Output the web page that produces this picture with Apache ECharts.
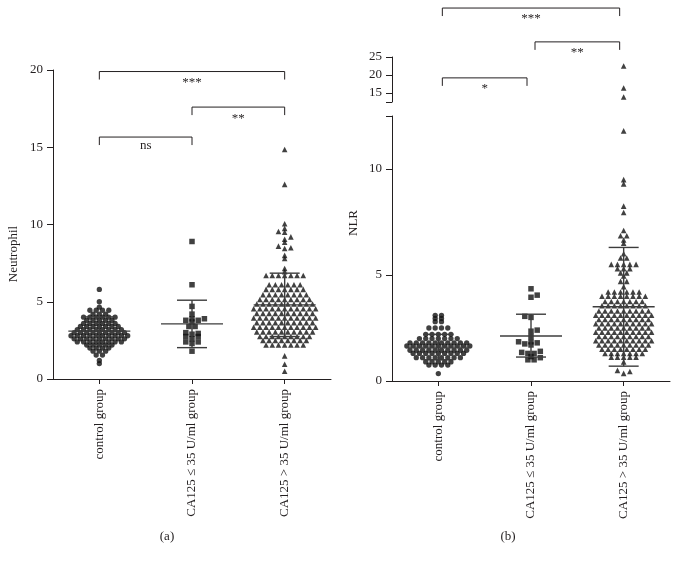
<!DOCTYPE html>
<html>
<head>
<meta charset="utf-8">
<script src="https://cdn.jsdelivr.net/npm/echarts@6/dist/echarts.min.js"></script>
<style>html,body{margin:0;padding:0;background:#fff}#c{width:678px;height:564px}</style>
</head>
<body>
<div id="c"></div>
<script>
// ---------- data ----------
const categories = ['control group', 'CA125 \u2264 35 U/ml group', 'CA125 > 35 U/ml group'];

const neutControl = [
  5.8, 5.0, 4.65,
  4.45, 4.45, 4.45, 4.45,
  4.2, 4.2, 4.2,
  4.0, 4.0, 4.0, 4.0, 4.0, 4.0,
  3.8, 3.8, 3.8, 3.8, 3.8,
  3.6, 3.6, 3.6, 3.6, 3.6, 3.6,
  3.4, 3.4, 3.4, 3.4, 3.4, 3.4, 3.4,
  3.2, 3.2, 3.2, 3.2, 3.2, 3.2, 3.2, 3.2,
  3.0, 3.0, 3.0, 3.0, 3.0, 3.0, 3.0, 3.0, 3.0,
  2.8, 2.8, 2.8, 2.8, 2.8, 2.8, 2.8, 2.8, 2.8, 2.8,
  2.6, 2.6, 2.6, 2.6, 2.6, 2.6, 2.6, 2.6, 2.6,
  2.4, 2.4, 2.4, 2.4, 2.4, 2.4, 2.4, 2.4,
  2.2, 2.2, 2.2, 2.2, 2.2,
  2.0, 2.0, 2.0, 2.0,
  1.8, 1.8, 1.8,
  1.55, 1.55,
  1.2, 1.0
];
const neutMid = [8.9, 6.1, 4.7, 4.2, 3.9, 3.9, 3.8, 3.8, 3.7, 3.4, 3.4, 3.0, 2.95, 2.9, 2.75, 2.75, 2.6, 2.4, 2.4, 2.3, 1.8];
const neutHigh = [
  14.85, 12.6,
  10.05, 9.75, 9.55, 9.5, 9.2, 9.05, 8.85, 8.6, 8.5, 8.45, 8.0, 7.8, 7.15, 6.95,
  6.7, 6.7, 6.7, 6.7, 6.7, 6.7, 6.7,
  6.1, 6.1, 6.1, 6.1, 6.1, 6.1,
  5.8, 5.8, 5.8, 5.8, 5.8, 5.8, 5.8,
  5.45, 5.45, 5.45, 5.45, 5.45, 5.45, 5.45, 5.45,
  5.15, 5.15, 5.15, 5.15, 5.15, 5.15, 5.15, 5.15, 5.15,
  4.85, 4.85, 4.85, 4.85, 4.85, 4.85, 4.85, 4.85, 4.85, 4.85,
  4.55, 4.55, 4.55, 4.55, 4.55, 4.55, 4.55, 4.55, 4.55, 4.55, 4.55,
  4.25, 4.25, 4.25, 4.25, 4.25, 4.25, 4.25, 4.25, 4.25, 4.25,
  3.95, 3.95, 3.95, 3.95, 3.95, 3.95, 3.95, 3.95, 3.95, 3.95, 3.95,
  3.65, 3.65, 3.65, 3.65, 3.65, 3.65, 3.65, 3.65, 3.65, 3.65,
  3.35, 3.35, 3.35, 3.35, 3.35, 3.35, 3.35, 3.35, 3.35, 3.35, 3.35,
  3.05, 3.05, 3.05, 3.05, 3.05, 3.05, 3.05, 3.05, 3.05, 3.05,
  2.75, 2.75, 2.75, 2.75, 2.75, 2.75, 2.75, 2.75, 2.75,
  2.5, 2.5, 2.5, 2.5, 2.5, 2.5, 2.5, 2.5,
  2.2, 2.2, 2.2, 2.2, 2.2, 2.2, 2.2,
  1.5, 0.95, 0.5
];

const nlrControl = [
  3.1, 3.1, 2.95, 2.95, 2.8, 2.8,
  2.5, 2.5, 2.5, 2.5,
  2.2, 2.2, 2.2, 2.2, 2.2,
  2.0, 2.0, 2.0, 2.0, 2.0, 2.0, 2.0,
  1.8, 1.8, 1.8, 1.8, 1.8, 1.8, 1.8, 1.8, 1.8, 1.8,
  1.65, 1.65, 1.65, 1.65, 1.65, 1.65, 1.65, 1.65, 1.65, 1.65, 1.65,
  1.45, 1.45, 1.45, 1.45, 1.45, 1.45, 1.45, 1.45, 1.45, 1.45,
  1.3, 1.3, 1.3, 1.3, 1.3, 1.3, 1.3, 1.3, 1.3,
  1.1, 1.1, 1.1, 1.1, 1.1, 1.1, 1.1, 1.1,
  0.9, 0.9, 0.9, 0.9, 0.9,
  0.75, 0.75, 0.75, 0.75,
  0.35
];
const nlrMid = [4.35, 4.05, 3.95, 3.05, 3.0, 2.4, 2.35, 2.1, 1.85, 1.85, 1.8, 1.75, 1.7, 1.4, 1.35, 1.3, 1.3, 1.15, 1.1, 1.0, 1.0];
const nlrHigh = [
  22.5, 16.4, 13.9,
  11.8, 9.5, 9.3, 8.25, 7.95, 7.1, 6.85, 6.85, 6.65, 6.5, 6.0, 5.8, 5.8,
  5.5, 5.5, 5.5, 5.5, 5.5,
  5.3, 5.3, 5.3,
  5.1, 5.1, 4.95,
  4.7, 4.7, 4.45,
  4.2, 4.2, 4.2, 4.2, 4.2, 4.2,
  4.0, 4.0, 4.0, 4.0, 4.0, 4.0, 4.0, 4.0,
  3.75, 3.75, 3.75, 3.75, 3.75, 3.75, 3.75,
  3.55, 3.55, 3.55, 3.55, 3.55, 3.55, 3.55, 3.55,
  3.3, 3.3, 3.3, 3.3, 3.3, 3.3, 3.3, 3.3, 3.3,
  3.1, 3.1, 3.1, 3.1, 3.1, 3.1, 3.1, 3.1, 3.1, 3.1,
  2.9, 2.9, 2.9, 2.9, 2.9, 2.9, 2.9, 2.9, 2.9,
  2.7, 2.7, 2.7, 2.7, 2.7, 2.7, 2.7, 2.7, 2.7, 2.7,
  2.5, 2.5, 2.5, 2.5, 2.5, 2.5, 2.5, 2.5, 2.5,
  2.3, 2.3, 2.3, 2.3, 2.3, 2.3, 2.3, 2.3, 2.3, 2.3,
  2.1, 2.1, 2.1, 2.1, 2.1, 2.1, 2.1, 2.1, 2.1,
  1.9, 1.9, 1.9, 1.9, 1.9, 1.9, 1.9, 1.9, 1.9, 1.9,
  1.7, 1.7, 1.7, 1.7, 1.7, 1.7, 1.7, 1.7, 1.7,
  1.5, 1.5, 1.5, 1.5, 1.5, 1.5, 1.5, 1.5,
  1.3, 1.3, 1.3, 1.3, 1.3, 1.3, 1.3,
  1.12, 1.12, 1.12, 1.12, 1.12,
  0.9, 0.5, 0.45, 0.36
];

// mean and SD bars (mean, lower, upper) per group
const neutMean = [3.1, 3.57, 4.8];
const neutLow = [2.22, 2.03, 2.75];
const neutHighSD = [4.02, 5.1, 6.85];
const nlrMean = [1.6, 2.12, 3.5];
const nlrLow = [1.0, 1.13, 0.7];
const nlrHighSD = [2.2, 3.15, 6.3];

// significance brackets: from group, to group, height (axis units), label
const neutBrackets = [[1, 3, 19.9, '***'], [2, 3, 17.6, '**'], [1, 2, 15.66, 'ns']];
const nlrBrackets = [[1, 3, 38.6, '***'], [2, 3, 29.2, '**'], [1, 2, 19.2, '*']];

// axis ticks
const neutTicks = [0, 5, 10, 15, 20];
const nlrLowerLabels = [0, 5, 10];
const nlrUpperLabels = [15, 20, 25];
const nlrBreak = 12.5;

// ---------- layout ----------
const FONT = 'Liberation Serif';
const INK = '#231f20';
const DOT = '#111';
const GL = {left: 53, top: 70, width: 278, height: 309};
const GU = {left: 392, top: 57, width: 278, height: 45};
const GB = {left: 392, top: 116, width: 278, height: 265};
const pxX = GL.width / 3;
const pxYL = GL.height / 20;
const pxYU = GU.height / (25 - nlrBreak);
const pxYB = GB.height / nlrBreak;

function swarm(values, cat, pxPerY, sx, sy) {
  const sorted = values.slice().sort((a, b) => a - b);
  const placed = [];
  let flip = 1;
  const collides = (x, y) => placed.some(p => Math.abs(p.y - y) < sy && Math.abs(p.x - x) < sx - 1e-6);
  let i = 0;
  while (i < sorted.length) {
    let j = i;
    while (j < sorted.length && sorted[j] === sorted[i]) j++;
    const n = j - i, y = sorted[i] * pxPerY;
    const sym = [];
    for (let k = 0; k < n; k++) sym.push((k - (n - 1) / 2) * sx);
    if (sym.every(x => !collides(x, y))) {
      sym.forEach(x => placed.push({x, y, v: sorted[i]}));
    } else {
      for (let k = 0; k < n; k++) {
        const cands = [0];
        placed.forEach(p => { if (Math.abs(p.y - y) < sy) cands.push(p.x - sx, p.x + sx); });
        let best = null;
        cands.forEach(c => {
          if (collides(c, y)) return;
          if (best === null || Math.abs(c) < Math.abs(best) - 1e-6 ||
              (Math.abs(Math.abs(c) - Math.abs(best)) < 1e-6 && Math.sign(c) === flip)) best = c;
        });
        if (best !== 0) flip = -Math.sign(best);
        placed.push({x: best, y, v: sorted[i]});
      }
    }
    i = j;
  }
  return placed.map(p => [cat + p.x / pxX, p.v]);
}

function xAxisCfg(grid, visible) {
  return {
    type: 'value', gridIndex: grid, min: 0.5, max: 3.5, show: visible,
    axisLine: {show: true, lineStyle: {color: INK, width: 1}},
    axisTick: {show: true, length: 5, customValues: [1, 2, 3], lineStyle: {color: INK, width: 1}},
    axisLabel: {show: true, customValues: [1, 2, 3], rotate: 90, margin: 10,
      formatter: v => categories[Math.round(v) - 1],
      fontFamily: FONT, fontSize: 13, color: INK},
    splitLine: {show: false}
  };
}
function yAxisCfg(grid, min, max, labels, ticks) {
  return {
    type: 'value', gridIndex: grid, min, max,
    axisLine: {show: true, lineStyle: {color: INK, width: 1}},
    axisTick: {show: true, length: 6, customValues: ticks, lineStyle: {color: INK, width: 1}},
    axisLabel: {show: true, customValues: labels, margin: 10, fontFamily: FONT, fontSize: 13, color: INK},
    splitLine: {show: false}
  };
}

function scatter(data, xi, yi, symbol, size) {
  return {type: 'scatter', xAxisIndex: xi, yAxisIndex: yi, symbol, symbolSize: size,
    itemStyle: {color: DOT}, data, silent: true, z: 3};
}

function sdSeries(means, lows, highs, xi, yi) {
  return {
    type: 'custom', xAxisIndex: xi, yAxisIndex: yi, silent: true, z: 4, clip: false,
    encode: {x: 0, y: [1, 2, 3]},
    data: means.map((m, k) => [k + 1, m, lows[k], highs[k]]),
    renderItem: (params, api) => {
      const c = api.coord([api.value(0), api.value(1)]);
      const lo = api.coord([api.value(0), api.value(2)]);
      const hi = api.coord([api.value(0), api.value(3)]);
      const st = {stroke: '#3c3c3c', lineWidth: 1.4};
      return {type: 'group', children: [
        {type: 'line', shape: {x1: c[0] - 31, y1: c[1], x2: c[0] + 31, y2: c[1]}, style: st},
        {type: 'line', shape: {x1: lo[0] - 15, y1: lo[1], x2: lo[0] + 15, y2: lo[1]}, style: st},
        {type: 'line', shape: {x1: hi[0] - 15, y1: hi[1], x2: hi[0] + 15, y2: hi[1]}, style: st},
        {type: 'line', shape: {x1: lo[0], y1: lo[1], x2: hi[0], y2: hi[1]}, style: st}
      ]};
    }
  };
}

function bracketSeries(list, xi, yi, inset) {
  return {
    type: 'custom', xAxisIndex: xi, yAxisIndex: yi, silent: true, z: 5, clip: false,
    encode: {x: [0, 1], y: 2},
    data: list.map(b => [b[0], b[1], b[2]]),
    renderItem: (params, api) => {
      const p1 = api.coord([api.value(0), api.value(2)]);
      const p2 = api.coord([api.value(1), api.value(2)]);
      const label = list[params.dataIndex][3];
      const x1 = p1[0] + inset, x2 = p2[0] - inset, y = p1[1];
      const star = label.indexOf('*') >= 0;
      return {type: 'group', children: [
        {type: 'polyline', shape: {points: [[x1, y + 8], [x1, y], [x2, y], [x2, y + 8]]},
          style: {stroke: INK, lineWidth: 1, fill: null}},
        {type: 'text', x: (x1 + x2) / 2, y: y + (star ? 11 : 9),
          style: {text: label, fontFamily: FONT, fontSize: 13, fill: INK, align: 'center', verticalAlign: 'middle'}}
      ]};
    }
  };
}

const nlrHighLower = nlrHigh.filter(v => v <= nlrBreak);
const nlrHighUpper = nlrHigh.filter(v => v > nlrBreak);

const option = {
  animation: false,
  backgroundColor: '#ffffff',
  grid: [GL, GU, GB],
  xAxis: [xAxisCfg(0, true), xAxisCfg(1, false), xAxisCfg(2, true)],
  yAxis: [
    yAxisCfg(0, 0, 20, neutTicks, neutTicks),
    yAxisCfg(1, nlrBreak, 25, nlrUpperLabels, [nlrBreak].concat(nlrUpperLabels)),
    yAxisCfg(2, 0, nlrBreak, nlrLowerLabels, nlrLowerLabels.concat([nlrBreak]))
  ],
  series: [
    scatter(swarm(neutControl, 1, pxYL, 6.3, 3), 0, 0, 'circle', 5.3),
    scatter(swarm(neutMid, 2, pxYL, 6.2, 3), 0, 0, 'rect', 5.5),
    scatter(swarm(neutHigh, 3, pxYL, 6.2, 3), 0, 0, 'triangle', 5.6),
    scatter(swarm(nlrControl, 1, pxYB, 6.3, 3), 2, 2, 'circle', 5.3),
    scatter(swarm(nlrMid, 2, pxYB, 6.2, 3), 2, 2, 'rect', 5.5),
    scatter(swarm(nlrHighLower, 3, pxYB, 6.2, 3), 2, 2, 'triangle', 5.6),
    scatter(swarm(nlrHighUpper, 3, pxYU, 6.2, 3), 1, 1, 'triangle', 5.6),
    sdSeries(neutMean, neutLow, neutHighSD, 0, 0),
    sdSeries(nlrMean, nlrLow, nlrHighSD, 2, 2),
    bracketSeries(neutBrackets, 0, 0, 0),
    bracketSeries(nlrBrackets, 1, 1, 4)
  ],
  graphic: [
    {type: 'text', x: 14, y: 254, rotation: Math.PI / 2,
      style: {text: 'Neutrophil', fontFamily: FONT, fontSize: 13, fill: INK, align: 'center', verticalAlign: 'middle'}},
    {type: 'text', x: 354, y: 223, rotation: Math.PI / 2,
      style: {text: 'NLR', fontFamily: FONT, fontSize: 13, fill: INK, align: 'center', verticalAlign: 'middle'}},
    {type: 'text', x: 167, y: 537,
      style: {text: '(a)', fontFamily: FONT, fontSize: 13, fill: INK, align: 'center', verticalAlign: 'middle'}},
    {type: 'text', x: 508, y: 537,
      style: {text: '(b)', fontFamily: FONT, fontSize: 13, fill: INK, align: 'center', verticalAlign: 'middle'}}
  ]
};

const chart = echarts.init(document.getElementById('c'), null, {renderer: 'canvas'});
chart.setOption(option);
</script>
</body>
</html>
